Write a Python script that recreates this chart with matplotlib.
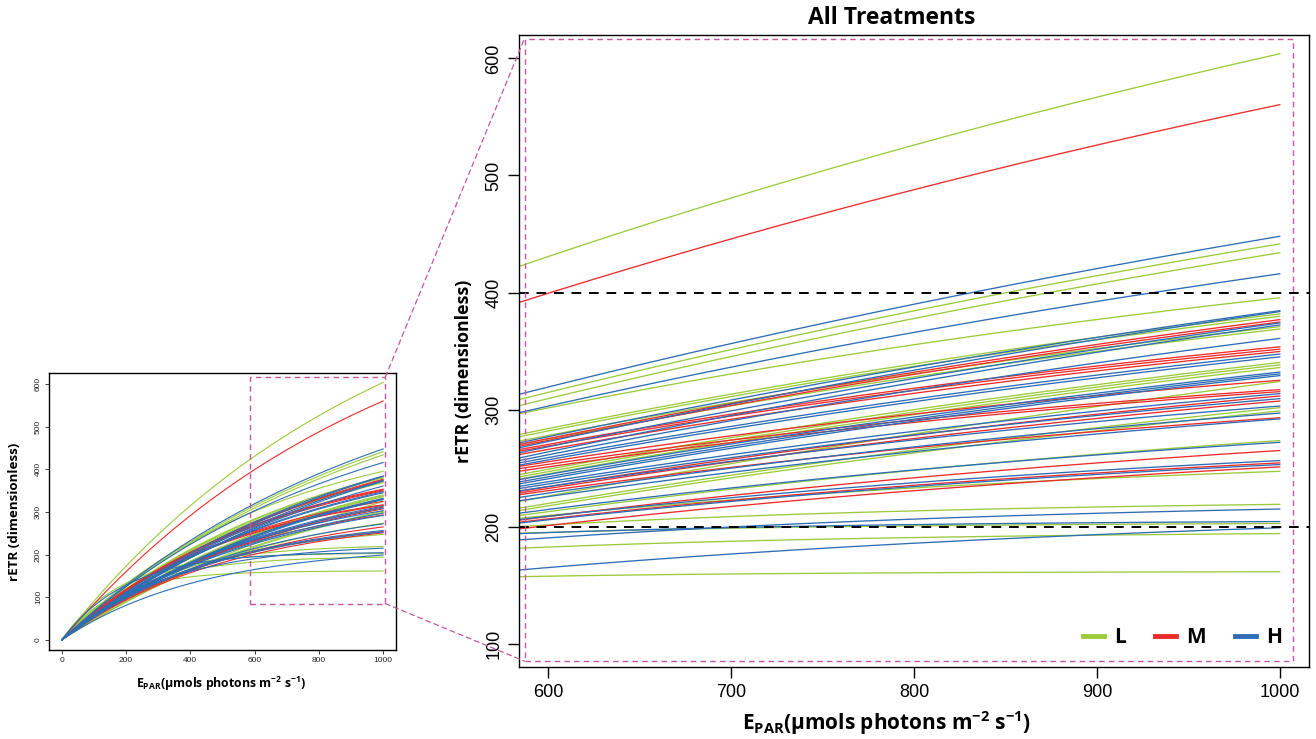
import numpy as np
import matplotlib.pyplot as plt
from matplotlib.patches import Rectangle, ConnectionPatch

# rETR at the left edge of the zoom panel and at E = 1000
E_READ = (584.0, 1000.0)

L_START = [422.3, 308.5, 303.3, 296.4, 278.7, 276.7, 273.0, 270.0, 244.4, 242.4,
           240.5, 221.5, 215.7, 213.7, 209.4, 207.1, 200.0, 194.3, 181.5, 157.2]
L_END = [604.0, 441.5, 434.0, 395.5, 381.7, 379.7, 370.8, 368.8, 340.2, 338.2,
         335.9, 324.0, 301.6, 298.8, 273.5, 247.2, 219.0, 202.6, 194.0, 161.4]

M_START = [391.5, 270.1, 268.6, 265.8, 264.4, 261.5, 251.5, 249.5, 247.3, 230.0,
           228.6, 227.2, 205.4, 203.7, 198.0]
M_END = [560.5, 376.8, 374.8, 353.6, 351.6, 349.6, 325.0, 317.0, 315.3, 311.6,
         307.3, 293.0, 265.0, 254.4, 251.0]

H_START = [313.0, 297.3, 271.5, 267.3, 263.0, 258.6, 256.4, 254.4, 252.5, 240.1,
           238.1, 236.4, 234.3, 232.5, 230.5, 224.9, 222.0, 211.4, 206.0, 203.0,
           188.6, 194.0, 162.9]
H_END = [448.0, 416.0, 384.5, 383.7, 374.0, 372.3, 360.8, 347.4, 345.0, 332.0,
         330.5, 329.0, 313.6, 309.3, 303.0, 297.0, 292.0, 272.0, 256.4, 253.0,
         215.0, 204.3, 199.0]

TREATMENTS = ['L', 'M', 'H']
COLORS = {'L': '#9BCB3B', 'M': '#EE2B2B', 'H': '#2E6DB5'}
PINK = '#C8559E'
ZOOM_BOX = (587, 85, 1007, 617)   # x0, y0, x1, y1
HLINES = [200, 400]

LABEL_FONT = dict(family=['Open Sans', 'DejaVu Sans'], weight='bold')
plt.rcParams['font.family'] = ['Liberation Sans', 'DejaVu Sans']
plt.rcParams['mathtext.fontset'] = 'custom'
plt.rcParams['mathtext.rm'] = 'Open Sans:bold'
plt.rcParams['mathtext.it'] = 'Open Sans:bold'
plt.rcParams['mathtext.bf'] = 'Open Sans:bold'

XLABEL = r'E$_\mathrm{PAR}$(μmols photons m$^\mathrm{-2}$ s$^\mathrm{-1}$)'
YLABEL = 'rETR (dimensionless)'


def pe_curve(p1, p2, e):
    '''Saturating P-E curve Pm*(1-exp(-kE)) passing through the two read values.'''
    e1, e2 = E_READ
    r = max(p2 / p1, 1.003)
    lo, hi = np.log(1e-7), np.log(0.2)
    for _ in range(80):
        mid = 0.5 * (lo + hi)
        k = np.exp(mid)
        g = (1 - np.exp(-e2 * k)) / (1 - np.exp(-e1 * k))
        if g > r:
            lo = mid
        else:
            hi = mid
    k = np.exp(0.5 * (lo + hi))
    pm = p2 / (1 - np.exp(-e2 * k))
    return pm * (1 - np.exp(-k * e))


data = {'L': (L_START, L_END), 'M': (M_START, M_END), 'H': (H_START, H_END)}
e = np.linspace(0, 1000, 500)

fig = plt.figure(figsize=(13.16, 7.39), dpi=100)
ax1 = fig.add_axes([0.0372, 0.1204, 0.2637, 0.3748])
ax2 = fig.add_axes([0.3944, 0.0974, 0.6003, 0.8552])

for t in TREATMENTS:
    for p1, p2 in zip(*data[t]):
        y = pe_curve(p1, p2, e)
        ax1.plot(e, y, color=COLORS[t], lw=0.8)
        ax2.plot(e, y, color=COLORS[t], lw=0.95)

# small overview panel
ax1.set_xlim(-40, 1040)
ax1.set_ylim(-24, 626)
ax1.set_xticks(np.arange(0, 1001, 200))
ax1.set_yticks(np.arange(0, 601, 100))
ax1.tick_params(labelsize=6, length=3, width=0.6, colors='#222222', pad=2)
ax1.tick_params(axis='y', labelrotation=90)
for lab in ax1.get_yticklabels():
    lab.set_va('center')
ax1.set_xlabel(XLABEL, fontsize=8.8, **LABEL_FONT)
ax1.set_ylabel(YLABEL, fontsize=9.6, **LABEL_FONT)
ax1.xaxis.set_label_coords(0.496, -0.09)
ax1.yaxis.set_label_coords(-0.08, 0.5)

# zoomed panel
ax2.set_xlim(584, 1016)
ax2.set_ylim(80, 620)
ax2.set_xticks(np.arange(600, 1001, 100))
ax2.set_yticks(np.arange(100, 601, 100))
ax2.tick_params(labelsize=13, length=8, width=1, pad=4)
ax2.tick_params(axis='y', labelrotation=90)
for lab in ax2.get_yticklabels():
    lab.set_va('center')
for h in HLINES:
    ax2.axhline(h, color='black', lw=1.4, dashes=(5, 4))
ax2.set_xlabel(XLABEL, fontsize=15, **LABEL_FONT)
ax2.set_ylabel(YLABEL, fontsize=12.8, **LABEL_FONT)
ax2.xaxis.set_label_coords(0.465, -0.066)
ax2.yaxis.set_label_coords(-0.058, 0.468)
ax2.text(0.472, 1.008, 'All Treatments', transform=ax2.transAxes, ha='center',
         va='bottom', fontsize=16.5, **LABEL_FONT)

handles = [plt.Line2D([], [], color=COLORS[t], lw=3.5) for t in TREATMENTS]
ax2.legend(handles, TREATMENTS, ncol=3, loc='lower right', frameon=False,
           bbox_to_anchor=(0.99, 0.0), handlelength=1.0, handletextpad=0.5,
           columnspacing=1.4,
           prop=dict(family=['Open Sans', 'DejaVu Sans'], weight='bold', size=15))

for ax in (ax1, ax2):
    for s in ax.spines.values():
        s.set_linewidth(1.0)
    x0, y0, x1, y1 = ZOOM_BOX
    ax.add_patch(Rectangle((x0, y0), x1 - x0, y1 - y0, fill=False, ec=PINK,
                           lw=1.0, ls=(0, (4, 3)), zorder=5))

x0, y0, x1, y1 = ZOOM_BOX
for yy in (y0, y1):
    con = ConnectionPatch(xyA=(x1, yy), coordsA=ax1.transData,
                          xyB=(x0, yy), coordsB=ax2.transData,
                          color=PINK, lw=0.9, ls=(0, (4, 3)))
    fig.add_artist(con)

fig.savefig('out.png', dpi=100)
